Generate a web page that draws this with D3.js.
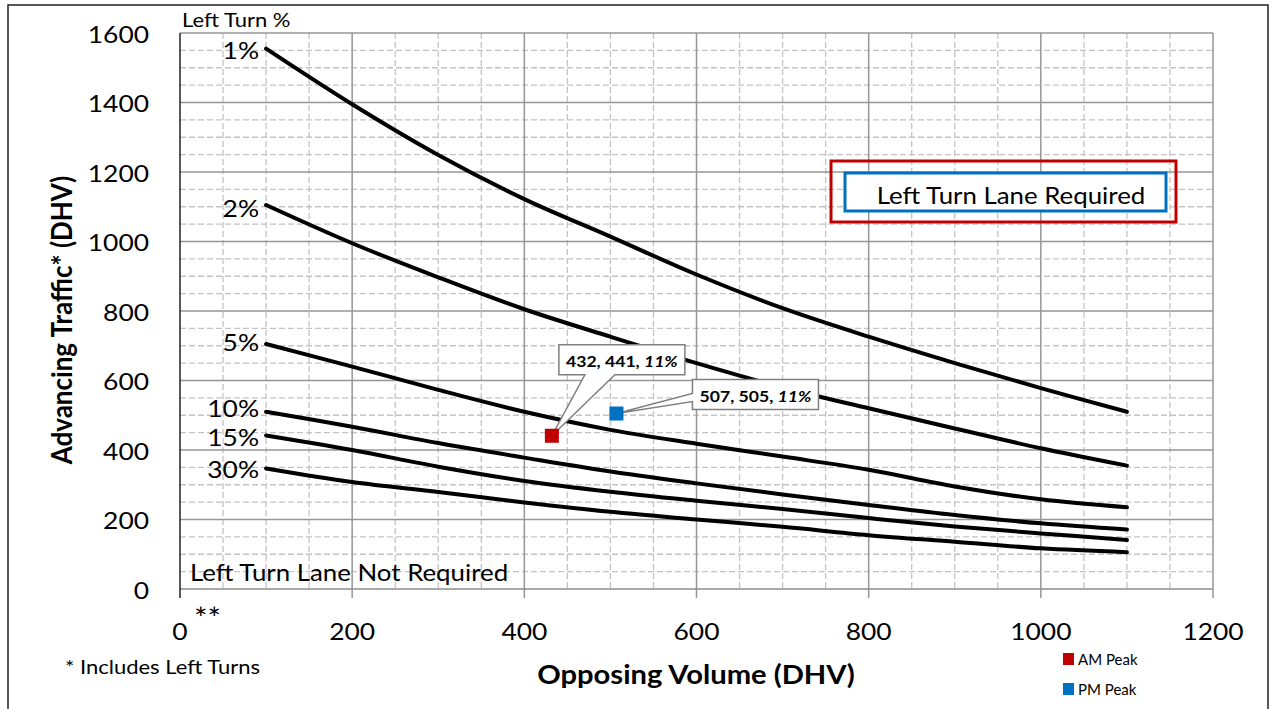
<!DOCTYPE html>
<html>
<head>
<meta charset="utf-8">
<script src="https://cdn.jsdelivr.net/npm/d3@7"></script>
<style>
  html, body { margin: 0; padding: 0; background: #fff; }
  svg { display: block; font-family: Lato, "Open Sans", sans-serif; }
</style>
</head>
<body>
<svg id="chart" width="1272" height="709"></svg>
<script>
// Opposing volume positions where each warrant curve is sampled (DHV)
const opposingVolume = [100, 200, 300, 400, 500, 600, 700, 800, 900, 1000, 1100];

// Left-turn percentage for each curve
const turnPercents = ["1%", "2%", "5%", "10%", "15%", "30%"];

// Advancing traffic (DHV) on each curve, one array per left-turn percentage
const advancing1 = [1555, 1395, 1249, 1122, 1014, 905, 808, 726, 650, 578, 510];
const advancing2 = [1105, 995, 897, 805, 726, 650, 580, 520, 462, 405, 355];
const advancing5 = [705, 640, 573, 510, 458, 418, 381, 343, 295, 258, 235];
const advancing10 = [510, 467, 420, 378, 338, 304, 272, 242, 213, 189, 171];
const advancing15 = [442, 400, 352, 311, 280, 254, 230, 204, 180, 160, 141];
const advancing30 = [347, 308, 279, 249, 222, 200, 179, 155, 136, 117, 106];
const curveValues = [advancing1, advancing2, advancing5, advancing10, advancing15, advancing30];

// Observed peak-hour volumes
const peakNames = ["AM Peak", "PM Peak"];
const peakOpposing = [432, 507];
const peakAdvancing = [441, 505];
const peakTurnPct = ["11%", "11%"];
const peakColors = ["#c00000", "#0070c0"];

// Axis ticks
const xTicks = [0, 200, 400, 600, 800, 1000, 1200];
const yTicks = [0, 200, 400, 600, 800, 1000, 1200, 1400, 1600];

const svg = d3.select("#chart");

const x = d3.scaleLinear().domain([0, 1200]).range([180, 1213]);
const y = d3.scaleLinear().domain([0, 1600]).range([589, 33]);

// Text is set slightly wide; this moves x/y into a transform and widens the glyphs
const WIDE = 1.1;
function widen(sel, s = WIDE) {
  sel.each(function () {
    const t = d3.select(this);
    const tx = +t.attr("x") || 0, ty = +t.attr("y") || 0;
    t.attr("x", 0).attr("y", 0)
      .attr("transform", `translate(${tx},${ty}) scale(${s},1)`);
  });
  return sel;
}

// Outer frame
svg.append("rect")
  .attr("x", 8).attr("y", 5).attr("width", 1260).attr("height", 720)
  .attr("fill", "none").attr("stroke", "#222").attr("stroke-width", 1.5);

// Minor dashed grid every 50
const grid = svg.append("g");
const minorX = d3.range(50, 1200, 50).filter(v => v % 200 !== 0);
const minorY = d3.range(50, 1600, 50).filter(v => v % 200 !== 0);
grid.selectAll(".mx").data(minorX).join("line")
  .attr("x1", d => x(d)).attr("x2", d => x(d))
  .attr("y1", y(1600)).attr("y2", y(0))
  .attr("stroke", "#c4c4c4").attr("stroke-width", 1.3).attr("stroke-dasharray", "6,3");
grid.selectAll(".my").data(minorY).join("line")
  .attr("x1", x(0)).attr("x2", x(1200))
  .attr("y1", d => y(d)).attr("y2", d => y(d))
  .attr("stroke", "#c4c4c4").attr("stroke-width", 1.3).attr("stroke-dasharray", "6,3");

// Major solid grid every 200
grid.selectAll(".Mx").data(xTicks.slice(1)).join("line")
  .attr("x1", d => x(d)).attr("x2", d => x(d))
  .attr("y1", y(1600)).attr("y2", y(0) + 9)
  .attr("stroke", "#969696").attr("stroke-width", 1.5);
grid.selectAll(".My").data(yTicks.slice(1)).join("line")
  .attr("x1", x(0)).attr("x2", x(1200))
  .attr("y1", d => y(d)).attr("y2", d => y(d))
  .attr("stroke", "#969696").attr("stroke-width", 1.5);

// Bottom axis line and left axis line
svg.append("line")
  .attr("x1", x(0)).attr("x2", x(1200)).attr("y1", y(0)).attr("y2", y(0))
  .attr("stroke", "#8c8c8c").attr("stroke-width", 1.5);
svg.append("line")
  .attr("x1", x(0)).attr("x2", x(0)).attr("y1", y(1600)).attr("y2", y(0) + 9)
  .attr("stroke", "#222").attr("stroke-width", 1.5);

// Tick labels
widen(svg.append("g").selectAll("text").data(yTicks).join("text")
  .attr("x", 149).attr("y", d => y(d))
  .attr("text-anchor", "end").attr("dominant-baseline", "central")
  .attr("font-size", 24).attr("fill", "#000")
  .text(d => d));
widen(svg.append("g").selectAll("text").data(xTicks).join("text")
  .attr("x", d => x(d)).attr("y", 640)
  .attr("text-anchor", "middle")
  .attr("font-size", 24).attr("fill", "#000")
  .text(d => d));
widen(svg.append("text").attr("x", 194).attr("y", 629)
  .attr("font-size", 29).text("**"));

// Axis titles
svg.append("text")
  .attr("transform", `translate(72, ${(y(0) + y(1600)) / 2 + 9}) rotate(-90) scale(1, ${WIDE})`)
  .attr("text-anchor", "middle").attr("font-size", 26).attr("font-weight", 700)
  .text("Advancing Traffic* (DHV)");
widen(svg.append("text")
  .attr("x", 696).attr("y", 684).attr("text-anchor", "middle")
  .attr("font-size", 26.5).attr("font-weight", 700)
  .text("Opposing Volume (DHV)"));

// Notes
widen(svg.append("text").attr("x", 182).attr("y", 26.5).attr("font-size", 20).text("Left Turn %"));
widen(svg.append("text").attr("x", 65).attr("y", 674).attr("font-size", 20).text("* Includes Left Turns"));
widen(svg.append("text").attr("x", 190).attr("y", 581).attr("font-size", 23.5).text("Left Turn Lane Not Required"));

// "Left Turn Lane Required" box
svg.append("rect").attr("x", 831).attr("y", 161).attr("width", 345).attr("height", 61)
  .attr("fill", "none").attr("stroke", "#c00000").attr("stroke-width", 3);
svg.append("rect").attr("x", 845).attr("y", 173).attr("width", 321).attr("height", 38)
  .attr("fill", "#fff").attr("stroke", "#0070c0").attr("stroke-width", 3);
widen(svg.append("text").attr("x", 1011).attr("y", 204).attr("text-anchor", "middle")
  .attr("font-size", 23.5).text("Left Turn Lane Required"));

// Warrant curves
const line = d3.line()
  .x((d, i) => x(opposingVolume[i]))
  .y(d => y(d))
  .curve(d3.curveCatmullRom.alpha(0.5));
svg.append("g").selectAll("path").data(curveValues).join("path")
  .attr("d", d => line(d))
  .attr("fill", "none").attr("stroke", "#000").attr("stroke-width", 4)
  .attr("stroke-linecap", "round");

// Curve labels at the start of each curve (small vertical nudges keep them apart)
const labelNudge = [1, 2, -3, -4, 1, 0];
widen(svg.append("g").selectAll("text").data(curveValues).join("text")
  .attr("x", x(opposingVolume[0]) - 7)
  .attr("y", (d, i) => y(d[0]) + labelNudge[i])
  .attr("text-anchor", "end").attr("dominant-baseline", "central")
  .attr("font-size", 24)
  .text((d, i) => turnPercents[i]));

// Callouts for the peak observations
const callouts = [
  { box: [7, -91, 126, 30], wedge: "bottom", base: [26, 56] },
  { box: [76, -34, 126, 30], wedge: "left", base: [14, 22] }
];
const cg = svg.append("g");
peakNames.forEach((name, i) => {
  const px = x(peakOpposing[i]), py = y(peakAdvancing[i]);
  const c = callouts[i];
  const bx = px + c.box[0], by = py + c.box[1], bw = c.box[2], bh = c.box[3];
  let path;
  if (c.wedge === "bottom") {
    path = `M${bx},${by} H${bx + bw} V${by + bh} H${bx + c.base[1]} L${px},${py} L${bx + c.base[0]},${by + bh} H${bx} Z`;
  } else {
    path = `M${bx},${by} H${bx + bw} V${by + bh} H${bx} V${by + c.base[1]} L${px},${py} L${bx},${by + c.base[0]} Z`;
  }
  cg.append("path").attr("d", path)
    .attr("fill", "#fff").attr("stroke", "#7f7f7f").attr("stroke-width", 1.5);
  const t = cg.append("text")
    .attr("x", bx + bw / 2).attr("y", by + bh / 2 + 1)
    .attr("text-anchor", "middle").attr("dominant-baseline", "central")
    .attr("font-size", 16).attr("font-weight", 700);
  t.append("tspan").text(`${peakOpposing[i]}, ${peakAdvancing[i]}, `);
  t.append("tspan").attr("font-style", "italic").text(peakTurnPct[i]);
  widen(t);
});

// Peak markers
svg.append("g").selectAll("rect").data(peakNames).join("rect")
  .attr("x", (d, i) => x(peakOpposing[i]) - 7)
  .attr("y", (d, i) => y(peakAdvancing[i]) - 7)
  .attr("width", 14).attr("height", 14)
  .attr("fill", (d, i) => peakColors[i]);

// Legend
const lg = svg.append("g");
peakNames.forEach((name, i) => {
  lg.append("rect").attr("x", 1063).attr("y", 653 + i * 30).attr("width", 11).attr("height", 12)
    .attr("fill", peakColors[i]);
  lg.append("text").attr("x", 1078).attr("y", 659 + i * 30)
    .attr("dominant-baseline", "central").attr("font-size", 15).text(name);
});
</script>
</body>
</html>
